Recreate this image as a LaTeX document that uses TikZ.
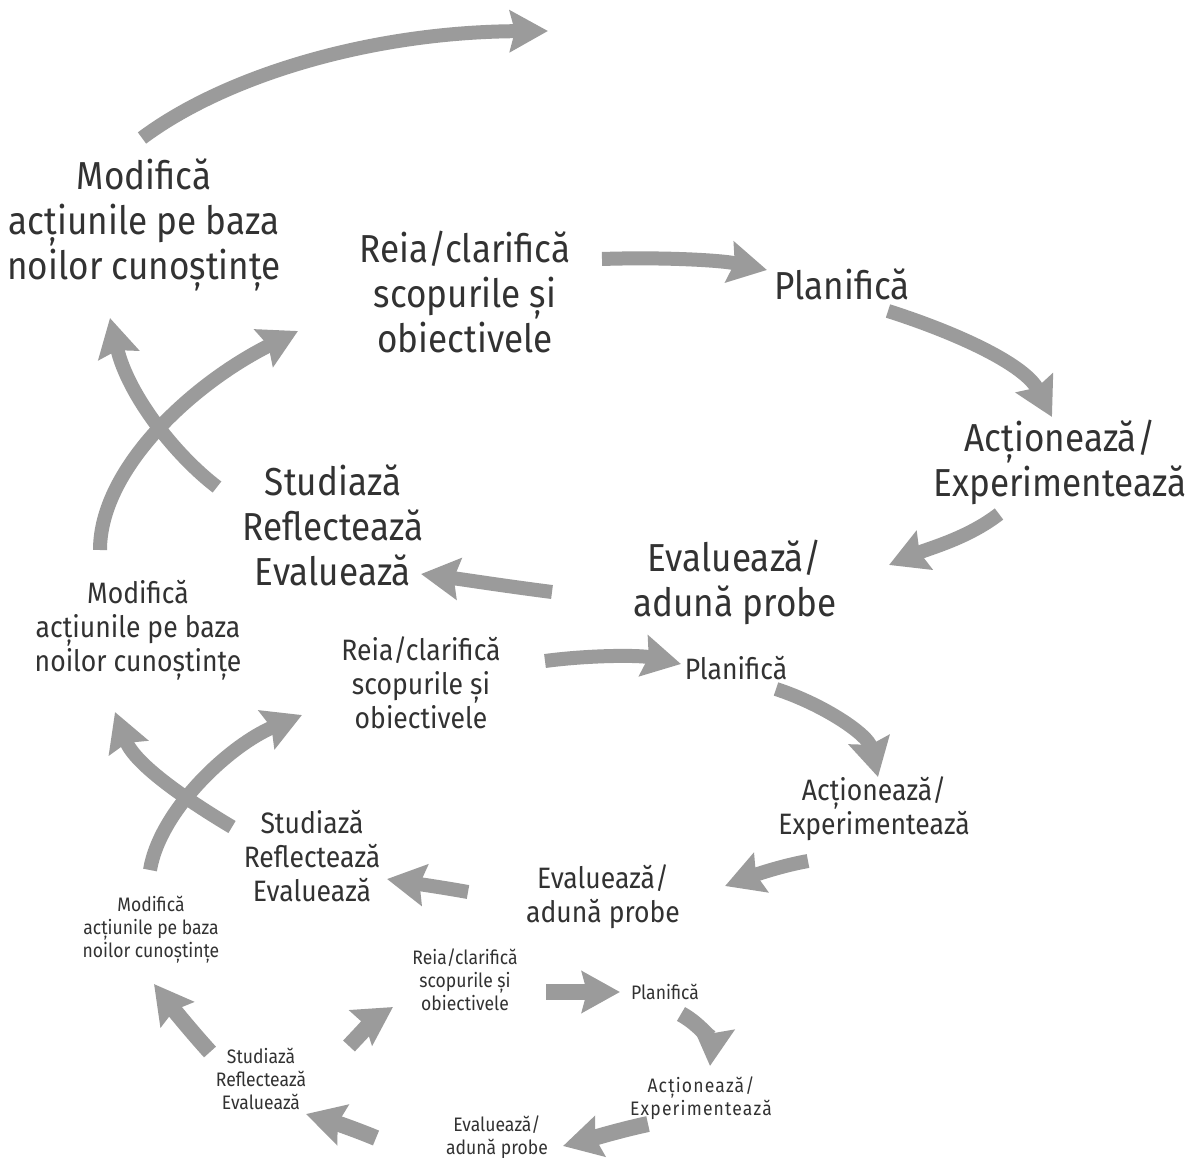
\documentclass[tikz,border=0pt]{standalone}
\usepackage{fontspec}
\setmainfont{Fira Sans}[FakeStretch=0.9]
\usetikzlibrary{arrows.meta}
\definecolor{flowgray}{RGB}{155,155,155}
\definecolor{inkgray}{RGB}{50,50,50}
\begin{document}
\begin{tikzpicture}[x=1pt,y=-1pt,
  lvlA/.style={text=inkgray,align=center,inner sep=0pt,font=\fontsize{39}{45}\selectfont},
  lvlB/.style={text=inkgray,align=center,inner sep=0pt,font=\fontsize{29.5}{34}\selectfont},
  lvlC/.style={text=inkgray,align=center,inner sep=0pt,font=\fontsize{19.5}{23}\selectfont},
  flow/.style={draw=flowgray,line width=14pt,
    -{Stealth[length=38pt,width=41pt,inset=5pt,fill=flowgray]}},
  flowC/.style={flow,line width=16pt}]
\useasboundingbox (0,0) rectangle (1196,1158);
\fill[white] (0,0) rectangle (1196,1158);

% ---- outer cycle ----
\node[lvlA] (mod1)  at (144,225)  {Modifică\\acțiunile pe baza\\noilor cunoștințe};
\node[lvlA] (reia1) at (465,292)  {Reia/clarifică\\scopurile și\\obiectivele};
\node[lvlA] (plan1) at (842,284)  {Planifică};
\node[lvlA] (act1)  at (1060,462) {Acționează/\\Experimentează};
\node[lvlA] (eval1) at (735,582)  {Evaluează/\\adună probe};
\node[lvlA] (stud1) at (333,525)  {Studiază\\Reflectează\\Evaluează};

% ---- middle cycle ----
\node[lvlB] (mod2)  at (138,630)  {Modifică\\acțiunile pe baza\\noilor cunoștințe};
\node[lvlB] (reia2) at (421,683)  {Reia/clarifică\\scopurile și\\obiectivele};
\node[lvlB] (plan2) at (736,668)  {Planifică};
\node[lvlB] (act2)  at (874,809)  {Acționează/\\Experimentează};
\node[lvlB] (eval2) at (603,897)  {Evaluează/\\adună probe};
\node[lvlB] (stud2) at (312,856)  {Studiază\\Reflectează\\Evaluează};

% ---- inner cycle ----
\node[lvlC] (mod3)  at (151,930)  {Modifică\\acțiunile pe baza\\noilor cunoștințe};
\node[lvlC] (reia3) at (465,980)  {Reia/clarifică\\scopurile și\\obiectivele};
\node[lvlC] (plan3) at (665,992)  {Planifică};
\node[lvlC] (act3)  at (701,1098) {\addfontfeature{LetterSpace=6}Acționează/\\\addfontfeature{LetterSpace=6}Experimentează};
\node[lvlC] (eval3) at (497,1137) {Evaluează/\\adună probe};
\node[lvlC] (stud3) at (261,1079) {Studiază\\Reflectează\\Evaluează};

% connector end points
\coordinate (out0) at (142,138);   \coordinate (out1) at (548,31);
\coordinate (ap0) at (602,259);    \coordinate (ap1) at (767,270);
\coordinate (pa0) at (888,311);    \coordinate (pa1) at (1052,417);
\coordinate (ae0) at (999,514);    \coordinate (ae1) at (889,565);
\coordinate (es0) at (552,592);    \coordinate (es1) at (421,574);
\coordinate (sm0) at (217,487);    \coordinate (sm1) at (110,318);
\coordinate (mr0) at (100,550);    \coordinate (mr1) at (298,331);

\coordinate (bp0) at (545,661);    \coordinate (bp1) at (681,664);
\coordinate (bpa0) at (776,689);   \coordinate (bpa1) at (878,777);
\coordinate (bae0) at (808,861);   \coordinate (bae1) at (725,886);
\coordinate (bes0) at (468,892);   \coordinate (bes1) at (387,879);
\coordinate (bsm0) at (232,827);   \coordinate (bsm1) at (115,712);
\coordinate (bmr0) at (150,870);   \coordinate (bmr1) at (302,715);

\coordinate (cp0) at (546,992);    \coordinate (cp1) at (620,992);
\coordinate (cpa0) at (681,1014);  \coordinate (cpa1) at (710,1066);
\coordinate (cae0) at (648,1124);  \coordinate (cae1) at (563,1146);
\coordinate (ces0) at (376,1138);  \coordinate (ces1) at (306,1114);
\coordinate (csm0) at (210,1052);  \coordinate (csm1) at (154,984);
\coordinate (cmr0) at (349,1046);  \coordinate (cmr1) at (393,1007);

% outer cycle arrows
\draw[flow] (out0) .. controls (225,76) and (370,32) .. (out1);
\draw[flow] (ap0) .. controls (660,257) and (720,260) .. (ap1);
\draw[flow] (pa0) .. controls (960,334) and (1025,365) .. (pa1);
\draw[flow] (ae0) .. controls (968,538) and (930,548) .. (ae1);
\draw[flow] (es0) .. controls (505,586) and (460,579) .. (es1);
\draw[flow] (sm0) .. controls (175,455) and (128,395) .. (sm1);
\draw[flow] (mr0) .. controls (100,470) and (190,385) .. (mr1);

% middle cycle arrows
\draw[flow] (bp0) .. controls (590,655) and (640,655) .. (bp1);
\draw[flow] (bpa0) .. controls (825,705) and (868,735) .. (bpa1);
\draw[flow] (bae0) .. controls (780,866) and (752,876) .. (bae1);
\draw[flow] (bes0) .. controls (440,887) and (412,883) .. (bes1);
\draw[flow] (bsm0) .. controls (190,802) and (135,765) .. (bsm1);
\draw[flow] (bmr0) .. controls (160,810) and (230,745) .. (bmr1);

% inner cycle arrows
\draw[flowC] (cp0) -- (cp1);
\draw[flowC] (cpa0) .. controls (703,1026) and (712,1045) .. (cpa1);
\draw[flowC] (cae0) .. controls (620,1130) and (590,1139) .. (cae1);
\draw[flowC] (ces0) .. controls (352,1128) and (330,1121) .. (ces1);
\draw[flowC] (csm0) .. controls (190,1030) and (170,1005) .. (csm1);
\draw[flowC] (cmr0) .. controls (362,1032) and (376,1018) .. (cmr1);
\end{tikzpicture}
\end{document}
